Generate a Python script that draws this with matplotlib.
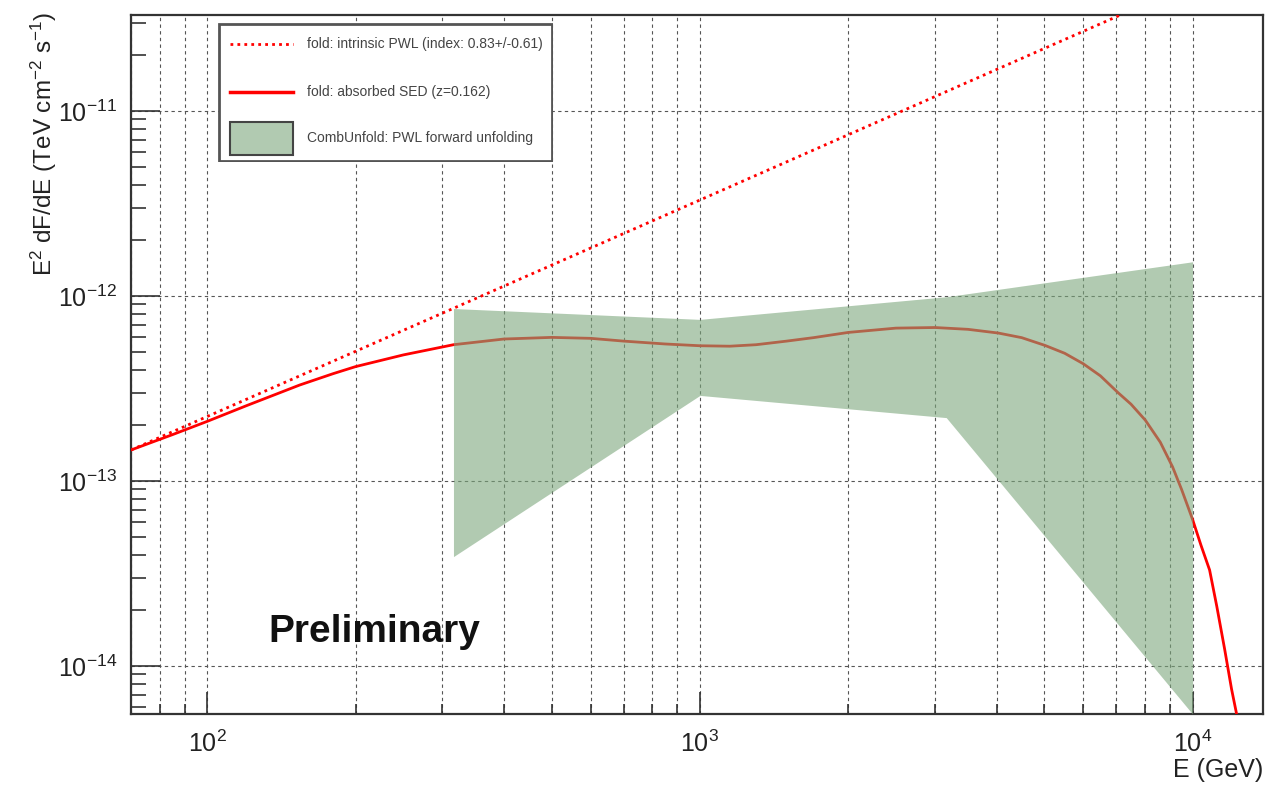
import numpy as np
import matplotlib
matplotlib.use("Agg")
import matplotlib.pyplot as plt
from matplotlib.ticker import LogLocator, NullFormatter, LogFormatterSciNotation
from matplotlib.patches import Rectangle

plt.rcParams['font.family'] = ['Liberation Sans', 'DejaVu Sans']
plt.rcParams['mathtext.fontset'] = 'custom'
plt.rcParams['mathtext.rm'] = 'Liberation Sans'
plt.rcParams['mathtext.it'] = 'Liberation Sans:italic'
plt.rcParams['mathtext.bf'] = 'Liberation Sans:bold'

# intrinsic power law (dotted), read at a few energies
pwl_E = [70, 1000, 10000]
pwl_flux = [1.47e-13, 3.3e-12, 4.9e-11]

# absorbed SED (solid red)
sed_E = [70, 85, 100, 120, 154, 180, 200, 250, 316, 400, 500, 600, 700, 850,
         1000, 1150, 1300, 1500, 1700, 2000, 2500, 3000, 3500, 4036, 4500,
         5020, 5500, 6000, 6500, 7060, 7500, 8020, 8600, 9110, 9500, 10000,
         10400, 10830, 11200, 11620, 12000, 12270, 12600]
sed_flux = [1.47e-13, 1.78e-13, 2.1e-13, 2.55e-13, 3.3e-13, 3.8e-13, 4.15e-13,
            4.8e-13, 5.45e-13, 5.85e-13, 5.97e-13, 5.9e-13, 5.7e-13, 5.5e-13,
            5.38e-13, 5.35e-13, 5.45e-13, 5.7e-13, 5.95e-13, 6.35e-13, 6.7e-13,
            6.75e-13, 6.6e-13, 6.3e-13, 5.95e-13, 5.4e-13, 4.9e-13, 4.3e-13,
            3.7e-13, 3.0e-13, 2.6e-13, 2.13e-13, 1.62e-13, 1.19e-13, 9.0e-14,
            6.2e-14, 4.5e-14, 3.3e-14, 2.1e-14, 1.23e-14, 7.5e-15, 5.6e-15,
            3.5e-15]

# CombUnfold forward unfolding band
band_E = [316, 1000, 3162, 10000]
band_hi = [8.55e-13, 7.47e-13, 9.9e-13, 1.53e-12]
band_lo = [3.9e-14, 2.9e-13, 2.2e-13, 5.5e-15]

labels = ["fold: intrinsic PWL (index: 0.83+/-0.61)",
          "fold: absorbed SED (z=0.162)",
          "CombUnfold: PWL forward unfolding"]

W, H = 1282, 786
fig = plt.figure(figsize=(W/100, H/100), dpi=100)
ax = fig.add_axes([131/W, 1-714/H, (1263-131)/W, (714-15)/H])
ax.set_xscale('log')
ax.set_yscale('log')
ax.set_xlim(70, 13900)
ax.set_ylim(5.5e-15, 3.3e-11)

red = '#ff0000'
green = (0.49, 0.66, 0.49)

ax.plot(pwl_E, pwl_flux, color=red, lw=2, linestyle=(0, (1.0, 1.5)), zorder=3)
ax.plot(sed_E, sed_flux, color=red, lw=2, zorder=3)
ax.fill_between(band_E, band_lo, band_hi, color=green, alpha=0.6, lw=0, zorder=4)

ax.xaxis.set_major_locator(LogLocator(base=10))
ax.xaxis.set_minor_locator(LogLocator(base=10, subs=range(2, 10), numticks=50))
ax.xaxis.set_minor_formatter(NullFormatter())
ax.yaxis.set_minor_locator(LogLocator(base=10, subs=range(2, 10), numticks=50))
ax.yaxis.set_minor_formatter(NullFormatter())
ax.xaxis.set_major_formatter(LogFormatterSciNotation())
ax.yaxis.set_major_formatter(LogFormatterSciNotation())

ax.xaxis.grid(True, which='both', color='#555555', lw=0.8, linestyle=(0, (3, 3)))
ax.yaxis.grid(True, which='major', color='#555555', lw=0.8, linestyle=(0, (3, 3)))
ax.set_axisbelow(True)

ax.tick_params(axis='x', which='major', direction='in', length=16, width=1.2,
               labelsize=18, pad=12, top=False, color='#333333',
               labelcolor='#222222')
ax.tick_params(axis='x', which='minor', direction='in', length=7, width=1.2,
               top=False, color='#333333')
ax.tick_params(axis='y', which='major', direction='in', length=21, width=1.2,
               labelsize=18, pad=10, right=False, color='#333333',
               labelcolor='#222222')
ax.tick_params(axis='y', which='minor', direction='in', length=11, width=1.2,
               right=False, color='#333333')
for s in ax.spines.values():
    s.set_linewidth(1.6)
    s.set_color('#333333')

fig.text(44/W, 1-12/H, r"E$^{2}$ dF/dE (TeV cm$^{-2}$ s$^{-1}$)", rotation=90,
         ha='center', va='top', fontsize=17.5, color='#222222')
fig.text(1263/W, 1-770/H, "E (GeV)", ha='right', va='center', fontsize=18,
         color='#222222')
fig.text(374/W, 1-632/H, "Preliminary", ha='center', va='center', fontsize=28,
         fontweight='bold', color='#111111')

# legend box drawn in its own pixel frame
lg = fig.add_axes([218/W, 1-162/H, 335/W, 139/H])
lg.set_xlim(0, 335)
lg.set_ylim(139, 0)
lg.set_axis_off()
lg.add_patch(Rectangle((1, 1), 333, 137, facecolor='white', edgecolor='#555555',
                       lw=2))
lg.plot([12, 75], [21, 21], color=red, lw=2, linestyle=(0, (1.0, 1.5)))
lg.plot([12, 75], [69, 69], color=red, lw=2.5)
lg.add_patch(Rectangle((12, 99), 63, 33, facecolor=green, alpha=0.6,
                       edgecolor='none'))
lg.add_patch(Rectangle((12, 99), 63, 33, facecolor='none', edgecolor='#444444',
                       lw=1.5))
for yy, t in zip([21, 69, 115], labels):
    lg.text(89, yy, t, ha='left', va='center', fontsize=10, color='#444444')

fig.savefig("out.png", dpi=100)
